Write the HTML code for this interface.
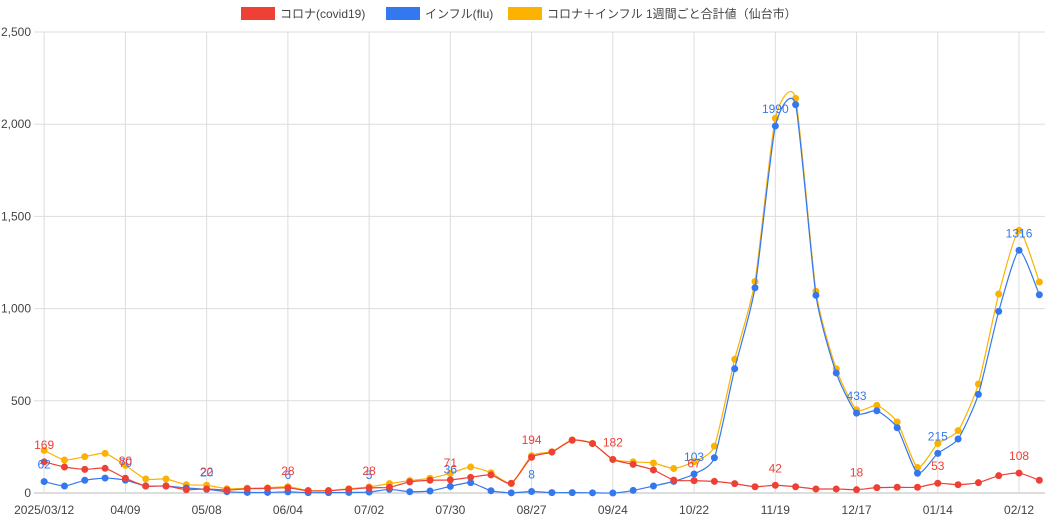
<!DOCTYPE html>
<html><head><meta charset="utf-8"><style>
body{margin:0;background:#fff;width:1045px;height:522px;overflow:hidden;font-family:"Liberation Sans","Noto Sans CJK JP",sans-serif}
</style></head><body>
<svg id="chart" width="1045" height="522" xmlns="http://www.w3.org/2000/svg" font-family="Liberation Sans, Noto Sans CJK JP, sans-serif">
<g id="legend">
 <g><rect x="241" y="7" width="34" height="13" fill="#ee4035"/><text x="280" y="18" font-size="12" fill="#444">コロナ(covid19)</text></g>
 <g><rect x="386" y="7" width="34" height="13" fill="#3478f0"/><text x="425" y="18" font-size="12" fill="#444">インフル(flu)</text></g>
 <g><rect x="508" y="7" width="34" height="13" fill="#fbb200"/><text x="547" y="18" font-size="12" fill="#444">コロナ＋インフル 1週間ごと合計値（仙台市）</text></g>
</g>
<g id="grid"></g><g id="lines"></g><g id="labels"></g>
</svg>
<script>
const xLabels=["2025/03/12","04/09","05/08","06/04","07/02","07/30","08/27","09/24","10/22","11/19","12/17","01/14","02/12"];
const yTicks=[0,500,1000,1500,2000,2500];
const covid=[169,141,128,134,80,38,38,18,22,16,23,25,28,12,12,20,28,31,60,69,71,85,98,52,194,222,286,268,182,155,125,70,67,63,51,34,42,34,22,22,18,29,31,31,53,45,56,94,108,69];
const flu=[62,38,69,81,70,38,38,27,20,7,3,3,6,2,2,3,5,20,7,11,36,56,12,1,8,2,2,1,0,14,38,63,103,191,674,1113,1990,2106,1072,651,433,446,354,107,215,293,535,985,1316,1075];
const total=[231,179,197,215,150,76,76,45,42,23,26,28,34,14,14,23,33,51,67,80,107,141,110,53,202,224,288,269,182,169,163,133,170,254,725,1147,2032,2140,1094,673,451,475,385,138,268,338,591,1079,1424,1144];
const NS="http://www.w3.org/2000/svg";
const L=34,R=1045,T=32,B=493,step=20.31,YMAX=2500;
const xs=i=>L+step*(i+0.5), ys=v=>B-(v/YMAX)*(B-T);
function mk(tag,at,parent){const e=document.createElementNS(NS,tag);for(const k in at)e.setAttribute(k,at[k]);parent.appendChild(e);return e;}
const grid=document.getElementById('grid'),lines=document.getElementById('lines'),labels=document.getElementById('labels');
yTicks.forEach(t=>{
 const g=mk('line',{x1:L,x2:R,y1:ys(t),y2:ys(t),stroke:t===0?'#bbb':'#ddd','stroke-width':1},grid);
 
 
 const tx=mk('text',{x:L-3,y:ys(t)+4,'text-anchor':'end','font-size':12,fill:'#444'},grid);tx.textContent=t.toLocaleString('en-US');
 
 
});
xLabels.forEach((lab,k)=>{
 const x=xs(k*4);
 const g=mk('line',{x1:x,x2:x,y1:T,y2:B,stroke:'#ddd'},grid);
 
 
 const tx=mk('text',{x:x,y:514,'text-anchor':'middle','font-size':12,fill:'#444'},grid);tx.textContent=lab;
 
 
});
function smooth(vals){
 const p=vals.map((v,i)=>[xs(i),ys(v)]);let d='M'+p[0][0]+','+p[0][1];const t=0.1;
 for(let i=0;i<p.length-1;i++){const p0=p[i-1]||p[i],p1=p[i],p2=p[i+1],p3=p[i+2]||p2;
  d+=' C'+(p1[0]+(p2[0]-p0[0])*t)+','+(p1[1]+(p2[1]-p0[1])*t)+' '+(p2[0]-(p3[0]-p1[0])*t)+','+(p2[1]-(p3[1]-p1[1])*t)+' '+p2[0]+','+p2[1];}
 return d;}
[[total,'#fbb200','total'],[flu,'#3478f0','flu'],[covid,'#ee4035','covid']].forEach(([vals,c,n])=>{
 const g=mk('g',{},lines);
 
 
 mk('path',{d:smooth(vals),fill:'none',stroke:c,'stroke-width':1.2},g);
 vals.forEach((v,i)=>{const pt=mk('circle',{cx:xs(i),cy:ys(v),r:3.5,fill:c},g);
  
  });
});
[[flu,'#3478f0','flu'],[covid,'#ee4035','covid']].forEach(([vals,c,n])=>{
 vals.forEach((v,i)=>{if(i%4||v===0)return;
  const tx=mk('text',{x:xs(i),y:ys(v)-13,'text-anchor':'middle','font-size':12,fill:c},labels);tx.textContent=v;
  
  });
});
</script>
</body></html>
